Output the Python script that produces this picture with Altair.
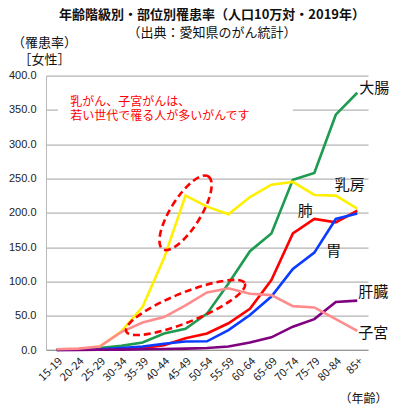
import altair as alt
import pandas as pd

ages = ["15-19", "20-24", "25-29", "30-34", "35-39", "40-44", "45-49", "50-54",
        "55-59", "60-64", "65-69", "70-74", "75-79", "80-84", "85+"]

colorectal = [0.3, 1.0, 3.0, 6.0, 11.0, 24.0, 31.0, 53.0, 97.0, 144.0, 170.0, 248.0, 258.0, 343.0, 375.0]
breast = [0.2, 1.0, 5.0, 27.0, 63.0, 134.0, 225.0, 209.0, 198.0, 223.0, 241.0, 245.0, 226.0, 225.0, 206.0]
lung = [0.3, 0.5, 1.0, 1.5, 3.0, 7.0, 17.0, 24.0, 39.0, 60.0, 102.0, 170.0, 191.0, 186.0, 203.0]
stomach = [0.2, 0.5, 1.0, 3.0, 5.0, 9.0, 12.5, 12.7, 29.0, 51.0, 78.0, 118.0, 142.0, 191.0, 199.0]
liver = [0.1, 0.2, 0.4, 0.6, 1.0, 1.5, 2.0, 3.0, 5.0, 11.0, 18.5, 34.0, 45.0, 70.0, 72.0]
uterus = [1.0, 2.0, 5.0, 26.0, 40.0, 48.0, 65.0, 84.0, 90.0, 82.0, 80.0, 64.0, 62.0, 45.0, 28.0]

series_names = ["大腸", "乳房", "肺", "胃", "肝臓", "子宮"]
series_values = [colorectal, breast, lung, stomach, liver, uterus]
series_colors = ["#1E9B50", "#FFF000", "#FF0000", "#0A3CFF", "#800080", "#FF8C8C"]

y_ticks = [0, 50, 100, 150, 200, 250, 300, 350, 400]

# end labels
label_names = ["大腸", "乳房", "肺", "胃", "肝臓", "子宮"]
label_ages = ["85+", "80-84", "75-79", "80-84", "85+", "85+"]
label_values = [382, 240, 203, 144, 84, 25]
label_dx = [2, -1, -9, -2, 1, 1]
label_align = ["left", "left", "center", "center", "left", "left"]

note_lines = ["乳がん、子宮がんは、", "若い世代で罹る人が多いがんです"]
note_values = [362, 341]

ellipse_ages = ["45-49", "45-49"]
ellipse_values = [200, 62]
ellipse_angle = [122, 158]
ellipse_ratio = [0.35, 0.23]
ellipse_semi = [43, 64]
ellipse_dx = [-3, -8]

rows = []
for name, vals in zip(series_names, series_values):
    for a, v in zip(ages, vals):
        rows.append({"age": a, "rate": v, "site": name})
df = pd.DataFrame(rows)

x_axis = alt.Axis(title="（年齢）", labelAngle=315, labelFontSize=11, labelColor="#222",
                  labelFont="Noto Sans CJK JP", ticks=False, domain=True,
                  domainColor="#999", labelPadding=5,
                  titleFont="Noto Sans CJK JP", titleFontSize=12, titleFontWeight="normal",
                  titleColor="#111", titleAnchor="end", titleAlign="right",
                  titleX=341, titleY=52, titleBaseline="alphabetic")
x_scale = alt.Scale(domain=ages, paddingInner=0, paddingOuter=0)

y_axis = alt.Axis(values=y_ticks, format=".1f", labelOverlap=False,
                  title=["（罹患率）", "［女性］"], titleAngle=0, titleAlign="center",
                  titleX=-2, titleY=-29, titleBaseline="alphabetic", titleLineHeight=17,
                  titleFont="Noto Sans CJK JP", titleFontSize=13, titleFontWeight="normal",
                  titleColor="#111",
                  labelFontSize=11, labelColor="#222", labelFont="Liberation Sans",
                  ticks=False, labelPadding=10, domain=True, domainColor="#bbb",
                  grid=True, gridColor="#a0a0a0", gridWidth=1)
y_scale = alt.Scale(domain=[0, 400])


def X(**kw):
    return alt.X("age:N", sort=ages, scale=x_scale, axis=x_axis, **kw)


def Y():
    return alt.Y("rate:Q", scale=y_scale, axis=y_axis)


lines = alt.Chart(df).mark_line(strokeWidth=2.6).encode(
    x=X(),
    y=Y(),
    color=alt.Color("site:N", scale=alt.Scale(domain=series_names, range=series_colors), legend=None),
    detail="site:N",
)

# white box behind the note text (hides part of the 350 gridline)
box_df = pd.DataFrame({"age": [ages[0]], "a2": [ages[11]], "rate": [330], "v2": [372]})
box = alt.Chart(box_df).mark_rect(color="white").encode(
    x=X(bandPosition=0.55),
    x2="a2:N",
    y=Y(),
    y2="v2:Q",
)

lab_df = pd.DataFrame({"age": label_ages, "rate": label_values, "name": label_names})
labels = []
for i in range(len(label_names)):
    labels.append(
        alt.Chart(lab_df.iloc[[i]]).mark_text(
            font="Noto Sans CJK JP", fontSize=15, color="#111", align=label_align[i],
            baseline="middle", dx=label_dx[i]
        ).encode(x=X(), y=Y(), text="name:N")
    )

note_df = pd.DataFrame({"age": ["20-24", "20-24"], "rate": note_values, "t": note_lines})
note = alt.Chart(note_df).mark_text(
    font="Noto Sans CJK JP", fontSize=12, color="#FF0000", align="left", baseline="middle", dx=-8
).encode(x=X(), y=Y(), text="t:N")


def ellipse_path(r):
    k = 0.5523
    a = k * r
    return (f"M -1 0 C -1 {-a:.4f} {-k:.4f} {-r:.4f} 0 {-r:.4f} "
            f"C {k:.4f} {-r:.4f} 1 {-a:.4f} 1 0 "
            f"C 1 {a:.4f} {k:.4f} {r:.4f} 0 {r:.4f} "
            f"C {-k:.4f} {r:.4f} -1 {a:.4f} -1 0 Z")


ell_layers = []
for i in range(2):
    edf = pd.DataFrame({"age": [ellipse_ages[i]], "rate": [ellipse_values[i]]})
    ell_layers.append(
        alt.Chart(edf).mark_point(
            shape=ellipse_path(ellipse_ratio[i]), filled=False, stroke="#FF0000",
            strokeWidth=2.6, strokeDash=[7, 4],
            size=(2 * ellipse_semi[i]) ** 2, angle=ellipse_angle[i], dx=ellipse_dx[i], opacity=1
        ).encode(x=X(), y=Y())
    )

chart = alt.layer(lines, box, *labels, note, *ell_layers).properties(
    width=322, height=274.4,
    title=alt.TitleParams(
        text="年齢階級別・部位別罹患率（人口10万対・2019年）",
        subtitle="（出典：愛知県のがん統計）",
        font="Noto Sans CJK JP", fontSize=13, fontWeight="bold", color="#111",
        subtitleFont="Noto Sans CJK JP", subtitleFontSize=13, subtitleColor="#111",
        subtitlePadding=5, anchor="middle", dx=5, dy=9, offset=6,
    ),
    autosize=alt.AutoSizeParams(type="none"),
    padding={"left": 38, "top": 67.6, "right": 22, "bottom": 54},
    background="white",
).configure_view(stroke=None).configure_axis(labelFont="Liberation Sans")

chart.save("out.html", embed_options={"renderer": "svg", "actions": False})
